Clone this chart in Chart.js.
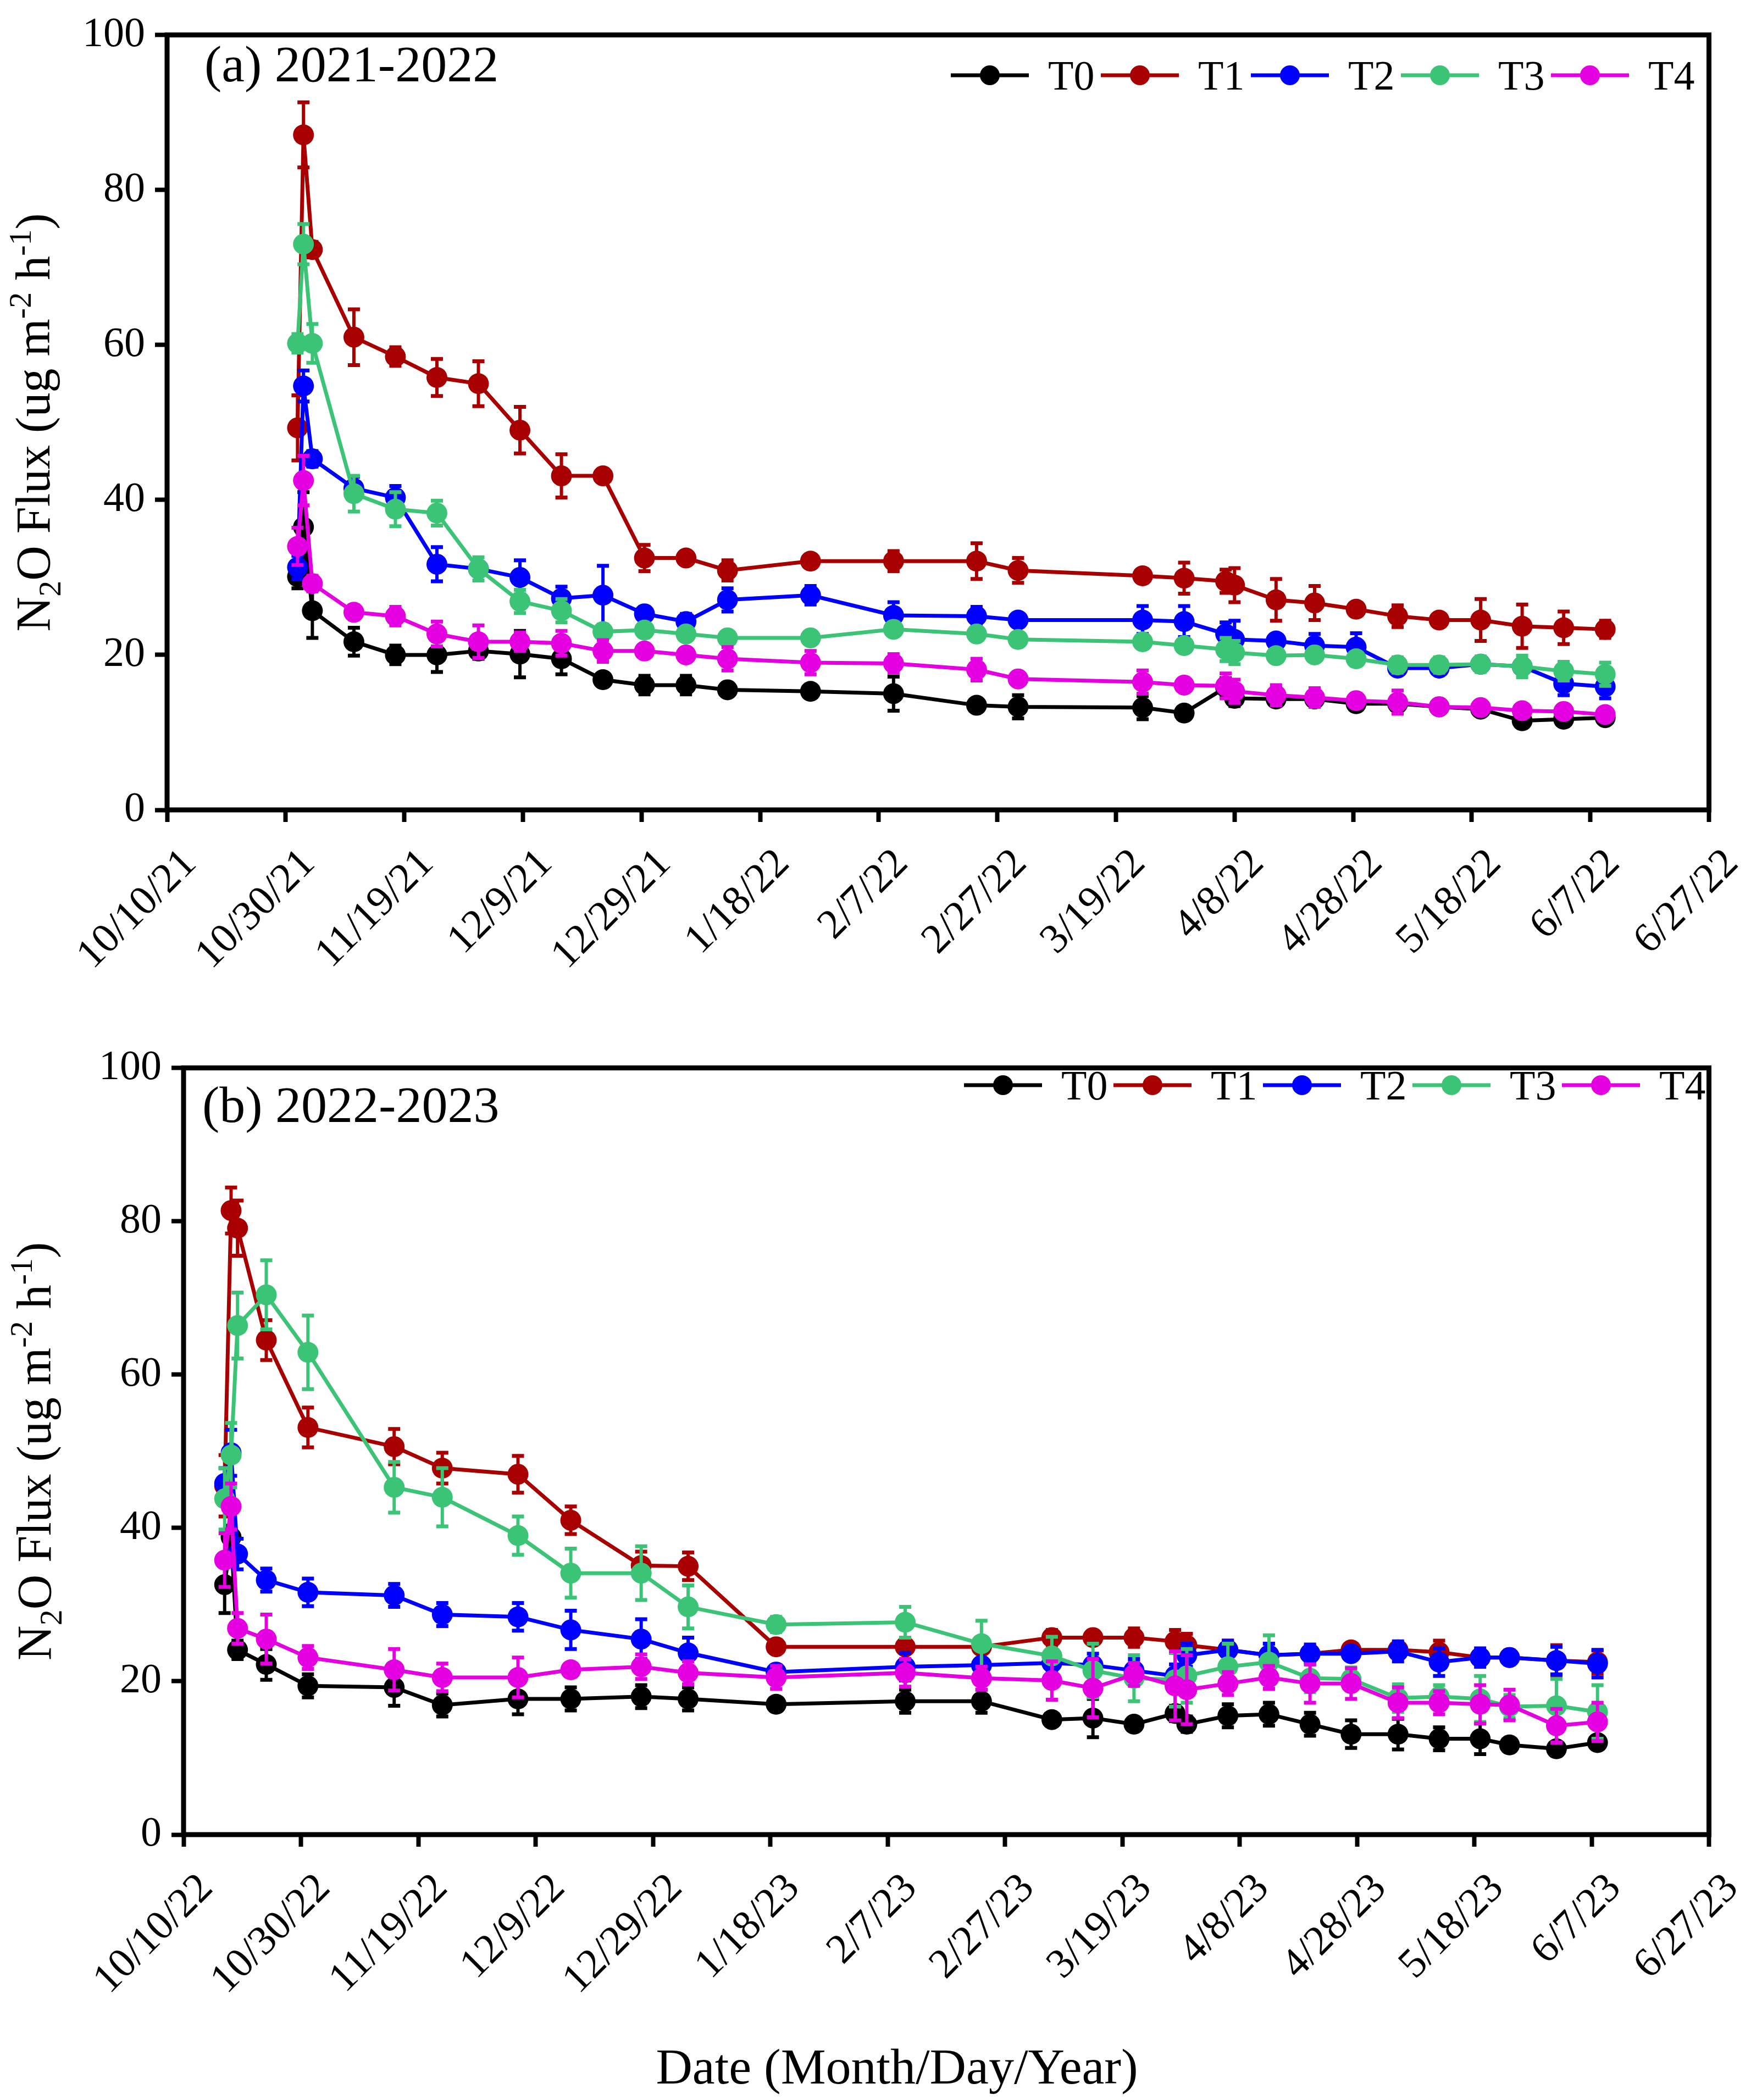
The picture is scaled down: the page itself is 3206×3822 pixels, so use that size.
<!DOCTYPE html>
<html><head><meta charset="utf-8">
<script src="https://cdn.jsdelivr.net/npm/chart.js@4.4.1/dist/chart.umd.min.js"></script>
<style>
html,body{margin:0;padding:0;background:#fff;}
#wrap{position:relative;width:3206px;height:3822px;background:#fff;overflow:hidden;}
canvas{position:absolute;left:0;}
#c1{top:0;}
#c2{top:1880px;}
</style></head>
<body><div id="wrap">
<canvas id="c1" width="3206" height="1880" style="width:3206px;height:1880px"></canvas>
<canvas id="c2" width="3206" height="1942" style="width:3206px;height:1942px"></canvas>
</div>
<script>
// ---------- DATA ----------
const seriesNames = ['T0','T1','T2','T3','T4'];
const yTicks = [0,20,40,60,80,100];
const xTickLabelsA = ['10/10/21','10/30/21','11/19/21','12/9/21','12/29/21','1/18/22','2/7/22','2/27/22','3/19/22','4/8/22','4/28/22','5/18/22','6/7/22','6/27/22'];
const xTickLabelsB = ['10/10/22','10/30/22','11/19/22','12/9/22','12/29/22','1/18/23','2/7/23','2/27/23','3/19/23','4/8/23','4/28/23','5/18/23','6/7/23','6/27/23'];

// (a) 2021-2022 : sampling day counted from 10/10/21
const daysA = [22,23,24.5,31.5,38.5,45.5,52.5,59.5,66.5,73.5,80.5,87.5,94.5,108.5,122.5,136.5,143.5,164.5,171.5,178.5,180,187,193.5,200.5,207.5,214.5,221.5,228.5,235.5,242.5];
const T0a = [30.1,36.5,25.7,21.7,20.0,20.0,20.5,20.1,19.5,16.8,16.1,16.1,15.5,15.3,15.0,13.5,13.3,13.2,12.5,15.8,14.4,14.3,14.3,13.7,13.7,13.3,13.0,11.5,11.7,11.9];
const T1a = [49.3,87.1,72.3,61.0,58.5,55.8,55.0,49.0,43.1,43.1,32.5,32.5,30.9,32.1,32.1,32.1,30.9,30.2,29.9,29.5,29.0,27.1,26.7,25.9,25.0,24.5,24.5,23.7,23.5,23.3];
const T2a = [31.3,54.7,45.3,41.5,40.3,31.7,31.1,30.0,27.3,27.7,25.3,24.3,27.1,27.7,25.1,25.0,24.5,24.5,24.3,22.7,22.0,21.8,21.2,21.0,18.3,18.3,18.8,18.5,16.3,15.9];
const T3a = [60.2,73.0,60.2,40.8,38.8,38.3,31.1,26.9,25.7,23.0,23.2,22.7,22.2,22.2,23.3,22.7,22.0,21.7,21.2,20.7,20.3,19.9,20.0,19.5,18.7,18.7,18.8,18.5,17.9,17.5];
const T4a = [34.0,42.5,29.2,25.5,25.0,22.7,21.7,21.7,21.5,20.5,20.5,20.0,19.5,19.0,18.9,18.1,16.9,16.5,16.1,16.0,15.3,14.8,14.5,14.1,13.9,13.3,13.2,12.8,12.7,12.3];
const E0a = [1.5,4.5,3.5,1.8,1.2,2.2,1.0,3.0,2.0,0.6,1.2,1.2,0.8,0.5,2.2,0.5,1.5,1.5,0.5,1.2,1.0,0.6,0.8,0.5,0.5,0.6,0.8,0.6,0.6,0.6];
const E1a = [4.2,4.2,1.0,3.6,1.2,2.4,2.9,3.0,2.8,0.5,1.7,0.5,1.3,0.6,1.3,2.3,1.6,0.6,2.0,1.5,2.2,2.7,2.2,0.8,1.4,0.6,2.7,2.8,2.1,1.1];
const E2a = [1.5,2.0,1.0,1.5,1.5,2.2,0.6,2.2,1.5,3.8,0.6,1.0,1.5,1.2,1.7,1.2,0.5,1.8,2.0,1.5,2.4,0.8,1.5,1.8,0.8,0.6,0.8,0.6,1.5,1.5];
const E3a = [1.2,2.6,2.5,2.3,2.2,1.6,1.5,1.5,1.5,0.6,0.6,0.6,0.6,0.6,0.8,0.8,0.6,0.6,0.6,1.5,1.5,0.8,0.6,0.8,1.0,1.0,1.0,1.4,1.2,1.5];
const E4a = [2.4,3.2,1.0,0.9,1.2,1.6,2.1,1.2,1.6,1.4,0.6,0.8,1.5,1.5,1.2,1.4,0.6,1.5,0.5,1.6,1.5,1.3,1.2,0.6,1.5,0.8,0.8,0.6,0.6,0.6];

// (b) 2022-2023 : sampling day counted from 10/10/22
const daysB = [7,8.1,9.2,14.1,21.2,35.9,44.1,57,66,78,86,101,123,136,148,155,162,169,171,178,185,192,199,207,214,221,226,234,241];
const T0b = [32.6,38.8,24.1,22.2,19.4,19.2,16.9,17.7,17.7,18.0,17.7,17.0,17.4,17.4,15.0,15.2,14.4,15.8,14.4,15.5,15.7,14.4,13.1,13.1,12.5,12.5,11.7,11.2,12.0];
const T1b = [45.5,81.4,79.1,64.5,53.1,50.6,47.8,47.0,41.0,35.1,35.0,24.5,24.5,24.5,25.7,25.7,25.7,25.2,24.7,24.1,23.4,23.6,24.1,24.1,23.8,23.1,23.1,22.7,22.5];
const T2b = [45.8,49.8,36.6,33.2,31.6,31.2,28.7,28.4,26.7,25.5,23.7,21.2,21.9,22.1,22.4,22.1,21.4,20.7,23.4,24.1,23.4,23.6,23.6,23.9,22.5,23.1,23.1,22.7,22.3];
const T3b = [43.8,49.5,66.4,70.4,62.9,45.3,44.0,39.0,34.1,34.1,29.7,27.4,27.7,24.9,23.3,21.4,20.4,20.2,20.7,21.9,22.5,20.4,20.3,17.8,18.0,17.7,16.7,16.8,16.0];
const T4b = [35.8,42.8,26.9,25.5,23.1,21.5,20.5,20.5,21.5,21.9,21.1,20.5,21.1,20.4,20.1,19.1,20.9,19.4,18.9,19.7,20.5,19.7,19.7,17.2,17.2,17.0,16.9,14.2,14.7];
const E0b = [3.7,1.5,1.2,2.0,1.5,2.4,1.5,2.0,1.5,1.5,1.5,0.5,1.5,1.5,0.5,2.5,0.5,1.0,1.0,1.5,1.5,1.5,1.8,2.0,1.5,2.0,0.7,0.6,0.6];
const E1b = [4.0,3.0,3.6,2.6,2.6,2.3,2.0,2.4,1.8,1.8,1.8,0.5,0.6,0.6,1.0,0.5,1.2,1.5,1.5,1.2,1.5,1.0,0.8,0.8,1.5,0.8,0.8,2.0,1.5];
const E2b = [2.0,3.0,2.0,1.5,1.8,1.5,1.5,1.8,2.5,2.6,2.0,0.5,1.8,0.6,1.0,1.5,1.5,1.5,1.5,1.2,1.5,1.2,0.8,1.3,1.8,1.2,0.9,1.8,1.8];
const E3b = [4.0,4.2,4.3,4.5,4.8,3.3,3.8,2.5,3.2,3.5,2.8,1.0,2.0,3.0,2.5,3.5,3.0,3.5,3.5,3.0,3.5,1.8,1.5,1.8,1.5,3.0,1.5,3.5,3.5];
const E4b = [3.5,3.0,2.0,3.2,1.5,2.7,1.8,2.6,0.6,1.6,1.5,1.5,1.8,1.5,2.5,3.8,1.5,4.5,4.5,1.5,1.5,2.5,2.0,2.0,1.5,2.5,2.0,2.2,2.5];

// ---------- STYLE ----------
const seriesColors = ['#000000','#A80000','#0000FF','#3CC476','#E400E0'];
const FONT = "'Liberation Serif','Times New Roman',serif";

const decor = {
  id: 'decor',
  afterDatasetDraw(chart, args, o) {
    const ds = chart.data.datasets[args.index];
    const ys = chart.scales.y, ctx = chart.ctx;
    ctx.save();
    ctx.strokeStyle = ds.borderColor; ctx.lineCap = 'butt';
    args.meta.data.forEach((el, j) => {
      const v = ds.data[j].y, e = ds.errors[j];
      if (!e) return;
      const x = el.x, y1 = ys.getPixelForValue(v + e), y2 = ys.getPixelForValue(v - e);
      ctx.lineWidth = 6;
      ctx.beginPath(); ctx.moveTo(x, y1); ctx.lineTo(x, y2); ctx.stroke();
      ctx.lineWidth = 7;
      ctx.beginPath();
      ctx.moveTo(x - 11, y1); ctx.lineTo(x + 11, y1);
      ctx.moveTo(x - 11, y2); ctx.lineTo(x + 11, y2);
      ctx.stroke();
    });
    ctx.restore();
  },
  afterDraw(chart, args, o) {
    const ctx = chart.ctx, a = chart.chartArea;
    ctx.save();
    // frame
    ctx.strokeStyle = '#000'; ctx.lineWidth = 9;
    ctx.strokeRect(a.left, a.top, a.right - a.left, a.bottom - a.top);
    // panel title
    ctx.fillStyle = '#000';
    ctx.font = '94px ' + FONT; ctx.textAlign = 'left'; ctx.textBaseline = 'alphabetic';
    ctx.fillText(o.title, o.titleX, o.titleY);
    // legend
    chart.data.datasets.forEach((ds, i) => {
      const x0 = o.legX + i * o.legStep, y = o.legY;
      ctx.strokeStyle = ds.borderColor; ctx.fillStyle = ds.borderColor; ctx.lineWidth = 7;
      ctx.beginPath(); ctx.moveTo(x0, y); ctx.lineTo(x0 + 142, y); ctx.stroke();
      ctx.beginPath(); ctx.arc(x0 + 71, y, 18, 0, Math.PI * 2); ctx.fill();
      ctx.fillStyle = '#000'; ctx.font = '76px ' + FONT;
      ctx.fillText(ds.label, x0 + 177, y + 26);
    });
    // y title with sub/superscripts
    const size = 88, small = 58;
    const parts = [['N','n'],['2','sub'],['O Flux (ug m','n'],['-2','sup'],[' h','n'],['-1','sup'],[')','n']];
    let total = 0;
    parts.forEach(p => { ctx.font = (p[1] === 'n' ? size : small) + 'px ' + FONT; p.w = ctx.measureText(p[0]).width; total += p.w; });
    ctx.translate(o.yTitleX, (a.top + a.bottom) / 2);
    ctx.rotate(-Math.PI / 2);
    ctx.fillStyle = '#000';
    let x = -total / 2;
    parts.forEach(p => {
      ctx.font = (p[1] === 'n' ? size : small) + 'px ' + FONT;
      const dy = p[1] === 'sub' ? 20 : (p[1] === 'sup' ? -34 : 0);
      ctx.fillText(p[0], x, dy); x += p.w;
    });
    ctx.setTransform(1, 0, 0, 1, 0, 0);
    if (o.xTitle) {
      ctx.font = '92px ' + FONT; ctx.textAlign = 'center'; ctx.fillStyle = '#000';
      ctx.fillText(o.xTitle, o.xTitleX, o.xTitleY);
    }
    ctx.restore();
  }
};

function buildChart(id, days, vals, errs, tickLabels, g) {
  const datasets = seriesNames.map((n, i) => ({
    label: n,
    data: days.map((d, j) => ({ x: d, y: vals[i][j] })),
    errors: errs[i],
    borderColor: seriesColors[i], backgroundColor: seriesColors[i],
    pointBackgroundColor: seriesColors[i], pointBorderColor: seriesColors[i],
    pointRadius: 19, pointHoverRadius: 19, pointBorderWidth: 0,
    borderWidth: 7, tension: 0, order: 5 - i, clip: false
  }));
  return new Chart(document.getElementById(id), {
    type: 'line',
    data: { datasets },
    plugins: [decor],
    options: {
      responsive: false, animation: false, devicePixelRatio: 1,
      layout: { padding: { left: 0, top: g.top, right: g.right, bottom: g.bottom } },
      plugins: { legend: { display: false }, tooltip: { enabled: false }, decor: g.decor },
      scales: {
        x: {
          type: 'linear', min: 0, max: (tickLabels.length - 1) * 20,
          afterFit: s => { s.height = 380; },
          afterBuildTicks: s => { s.ticks = tickLabels.map((_, i) => ({ value: i * 20 })); },
          ticks: { autoSkip: false, maxRotation: 45, minRotation: 45, padding: 32, labelOffset: 42, color: '#000',
            font: { family: FONT, size: 76 }, callback: v => tickLabels[Math.round(v / 20)] },
          grid: { drawOnChartArea: false, drawTicks: true, tickLength: 22, tickWidth: 8, tickColor: '#000', color: '#000' },
          border: { display: false }
        },
        y: {
          min: 0, max: 100,
          afterFit: s => { s.width = g.yAxisW; },
          afterBuildTicks: s => { s.ticks = yTicks.map(v => ({ value: v })); },
          ticks: { padding: 18, color: '#000', font: { family: FONT, size: 76 } },
          grid: { drawOnChartArea: false, drawTicks: true, tickLength: 22, tickWidth: 8, tickColor: '#000', color: '#000' },
          border: { display: false }
        }
      }
    }
  });
}

buildChart('c1', daysA, [T0a,T1a,T2a,T3a,T4a], [E0a,E1a,E2a,E3a,E4a], xTickLabelsA, {
  top: 43, right: 76, bottom: 1880 - 1474 - 380, yAxisW: 304,
  decor: { title: '(a) 2021-2022', titleX: 372, titleY: 148, legX: 1730, legStep: 273, legY: 137, yTitleX: 90 }
});
buildChart('c2', daysB, [T0b,T1b,T2b,T3b,T4b], [E0b,E1b,E2b,E3b,E4b], xTickLabelsB, {
  top: 27, right: 60, bottom: 1942 - 1459 - 380, yAxisW: 334,
  decor: { title: '(b) 2022-2023', titleX: 368, titleY: 162, legX: 1754, legStep: 272, legY: 95, yTitleX: 92,
           xTitle: 'Date (Month/Day/Year)', xTitleX: 1632, xTitleY: 1912 }
});
</script>
</body></html>
